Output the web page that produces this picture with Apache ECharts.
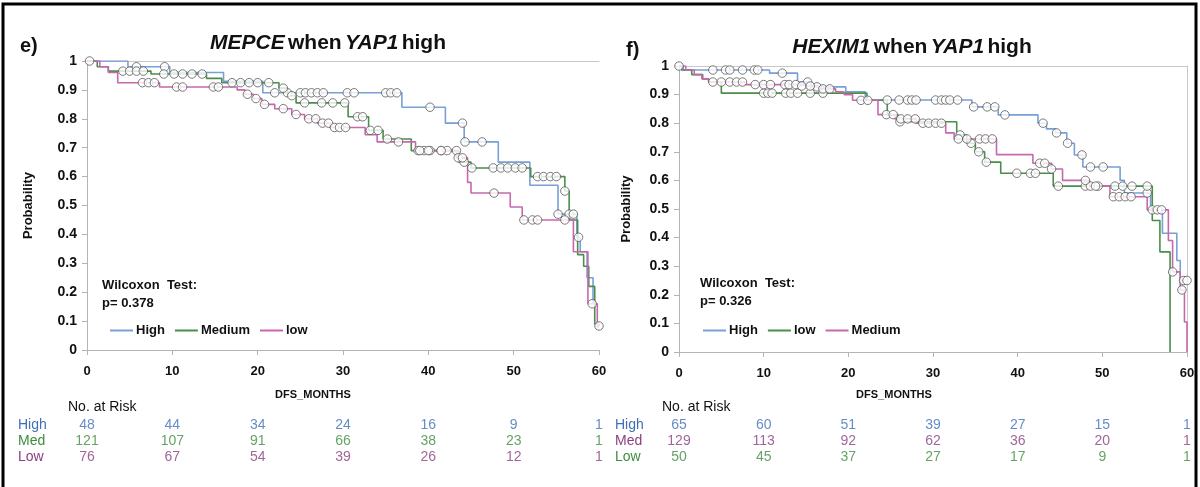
<!DOCTYPE html>
<html>
<head>
<meta charset="utf-8">
<script src="https://cdn.jsdelivr.net/npm/echarts@6/dist/echarts.min.js"></script>
<style>
  html, body { margin: 0; padding: 0; background: #fff; }
  #chart { width: 1200px; height: 487px; }
</style>
</head>
<body>
<div id="chart"></div>
<script>
// ---- Kaplan-Meier step data: [month, survival probability] ----
// Panel e: MEPCE when YAP1 high
const eHighSteps = [[0,1],[4.8,0.98],[9.7,0.96],[16,0.93],[20.6,0.89],[36.9,0.84],[42,0.785],[44.2,0.72],[48.2,0.65],[51.9,0.57],[55.2,0.47],[57.4,0.39],[57.8,0.34],[58.6,0.25],[59.3,0.16],[59.6,0.16]];
const eMedSteps  = [[0,1],[1.2,0.98],[2.5,0.965],[7.5,0.955],[14,0.94],[15.8,0.925],[22.5,0.906],[23.5,0.88],[24.5,0.855],[30.6,0.807],[33,0.76],[34.7,0.73],[38,0.69],[43.6,0.65],[45,0.63],[52,0.60],[56,0.55],[56.5,0.45],[57.5,0.33],[58.2,0.29],[58.8,0.22],[59.5,0.09],[60,0.083]];
const eLowSteps  = [[0,1],[1.5,0.98],[2.5,0.96],[3.6,0.925],[8.5,0.91],[17.6,0.90],[18.5,0.885],[19.5,0.87],[20.5,0.85],[22,0.835],[24,0.815],[25.5,0.80],[27,0.785],[28.5,0.77],[32.6,0.745],[34,0.72],[38.5,0.69],[43.3,0.665],[44.6,0.58],[45,0.543],[49.6,0.495],[51,0.45],[57,0.34],[58.7,0.16],[59.8,0.08],[60,0.08]];
// censored observation times (months)
const eHighCens = [0.3,5.8,9.1,22,23.5,25,25.6,26.3,27,27.7,30.5,31.3,35,35.6,36.3,40.2,44,44.3,46.3,55.2,56.5,57,57.6];
const eMedCens  = [4.2,5,5.8,6.6,9,10.2,11.2,12.3,13.5,17,18,19,20,21.3,23,24,25.5,27.5,28.8,30.2,31.7,32.3,33.2,34.1,35.2,38.8,39.5,40.2,41.5,42.2,43.3,44.2,45.1,47.6,48.5,49.3,50.2,51,52.8,53.5,54.3,55,56,60];
const eLowCens  = [6.5,7.2,7.9,10.5,11.2,14.8,15.4,18.8,19.8,20.8,23,24.5,26,26.8,27.6,28.3,29,29.6,30.3,36.5,39,40,41.5,43.5,44,47.7,51.2,52.2,52.8,56,59.2];

// Panel f: HEXIM1 when YAP1 high
const fHighSteps = [[0,1],[0.5,0.986],[10.7,0.975],[14,0.944],[15.5,0.927],[19.7,0.91],[22,0.881],[34.6,0.857],[37.7,0.829],[42.4,0.80],[43.4,0.78],[44.5,0.766],[45.8,0.73],[46.7,0.689],[47.7,0.647],[52.1,0.60],[52.6,0.556],[55.7,0.497],[57.1,0.415],[58.8,0.32],[59.2,0.25],[60,0.25]];
const fLowSteps  = [[0,1],[0.3,0.986],[1.5,0.97],[2.8,0.955],[3.5,0.944],[5,0.905],[22.2,0.88],[24.6,0.829],[25.9,0.805],[32.8,0.759],[34,0.73],[35,0.70],[36.1,0.664],[38,0.625],[44.2,0.58],[55.9,0.46],[56.8,0.35],[58,0]];
const fMedSteps  = [[0,1],[0.8,0.986],[1.8,0.97],[2.7,0.955],[3.5,0.944],[7.8,0.935],[14,0.93],[16.5,0.92],[18.5,0.91],[19.5,0.90],[20.5,0.88],[23.5,0.83],[25.5,0.815],[28,0.80],[31.5,0.766],[32.5,0.745],[37.5,0.69],[41.8,0.66],[44,0.64],[45.3,0.60],[48.5,0.58],[50.9,0.543],[55.3,0.497],[57.8,0.39],[58.3,0.28],[59.2,0.217],[59.7,0.105],[60,0]];
const fHighCens = [0,4,5.5,6,7.5,8.9,9.3,12.2,15.2,16.3,24.6,26,27,27.5,28,30.3,31,31.5,32,32.9,34.8,36.4,37.3,38.5,43,44.6,45.9,47.6,48.6,50.1,55.3,59.6,60];
const fLowCens  = [10,10.5,11,12.6,13.2,14,15.5,17,26.1,33.2,34.5,35.4,36.3,39.9,41.5,42.1,44.8,48,48.6,49.5,51.5,52.4,53.5,55.3];
const fMedCens  = [4,5,6,6.8,7.5,9,10,10.8,12.5,13,13.8,14.5,15.5,17,17.8,21.5,22.3,24.5,25.3,26.2,27,27.9,28.8,29.5,30.3,31,33,34,35.5,36.2,37,42.6,43.2,44,48,49.2,51.3,52,52.7,53.4,55.9,56.5,57,58.3,59.4];

// ---- Number at risk tables ----
const riskMonths = [0,10,20,30,40,50,60];
const eRiskHigh = [48,44,34,24,16,9,1];
const eRiskMed  = [121,107,91,66,38,23,1];
const eRiskLow  = [76,67,54,39,26,12,1];
const fRiskHigh = [65,60,51,39,27,15,1];
const fRiskMed  = [129,113,92,62,36,20,1];
const fRiskLow  = [50,45,37,27,17,9,1];
const riskRows = ['High','Med','Low'];

// ---- styling ----
const FONT = 'Arial, "Liberation Sans", sans-serif';
const LINE_BLUE = '#789fd6', LINE_GREEN = '#4b8d4b', LINE_PINK = '#c768ad';
const TXT_BLUE = '#3f70b6', TXT_GREEN = '#3f8b3f', TXT_PURPLE = '#8a3f7f';
const AXIS_GREY = '#b4b4b4';

// survival value of a step curve at time t
function survAt(steps, t) {
  let s = steps[0][1];
  for (const [st, sv] of steps) { if (st <= t) s = sv; else break; }
  return s;
}

function valueXAxis(gridIndex) {
  return {
    type: 'value', gridIndex, min: 0, max: 60, interval: 10,
    axisLine: { show: true, lineStyle: { color: AXIS_GREY, width: 1 } },
    axisTick: { show: true, length: 5, lineStyle: { color: AXIS_GREY } },
    axisLabel: { color: '#111', fontFamily: FONT, fontWeight: 'bold', fontSize: 13, margin: 15 },
    splitLine: { show: false }
  };
}
function valueYAxis(gridIndex) {
  return {
    type: 'value', gridIndex, min: 0, max: 1, interval: 0.1,
    axisLine: { show: true, lineStyle: { color: AXIS_GREY, width: 1 } },
    axisTick: { show: true, length: 5, lineStyle: { color: AXIS_GREY } },
    axisLabel: {
      color: '#111', fontFamily: FONT, fontWeight: 'bold', fontSize: 14, margin: 10,
      formatter: v => (v === 0 ? '0' : v === 1 ? '1' : v.toFixed(1))
    },
    splitLine: { show: false }
  };
}
// plain light line used as the top / right frame of a plot area
function borderAxis(kind, gridIndex, position) {
  return {
    gridIndex, position, type: 'value', min: 0, max: kind === 'x' ? 60 : 1,
    axisLine: { show: true, onZero: false, lineStyle: { color: '#c8c8c8', width: 1 } },
    axisTick: { show: false }, axisLabel: { show: false }, splitLine: { show: false }
  };
}
function riskYAxis(gridIndex, colors, margin) {
  return {
    type: 'category', gridIndex, data: riskRows, inverse: true,
    axisLine: { show: false }, axisTick: { show: false }, splitLine: { show: false },
    axisLabel: {
      interval: 0, align: 'left', margin, fontFamily: FONT, fontSize: 14,
      formatter: v => '{' + v + '|' + v + '}',
      rich: {
        High: { color: colors[0], fontFamily: FONT, fontSize: 14 },
        Med:  { color: colors[1], fontFamily: FONT, fontSize: 14 },
        Low:  { color: colors[2], fontFamily: FONT, fontSize: 14 }
      }
    }
  };
}
function riskXAxis(gridIndex) {
  return { type: 'value', gridIndex, min: 0, max: 60, show: false };
}

function kmLine(name, steps, color, xi, yi) {
  return {
    name, type: 'line', step: 'end', xAxisIndex: xi, yAxisIndex: yi,
    data: steps, showSymbol: false, symbol: 'none', z: 2,
    lineStyle: { color, width: 1.6 }, itemStyle: { color }
  };
}
function censorMarks(steps, times, xi, yi) {
  return {
    type: 'scatter', xAxisIndex: xi, yAxisIndex: yi, z: 4,
    symbol: 'circle', symbolSize: 8.5,
    itemStyle: { color: '#fff', borderColor: '#5a5a5a', borderWidth: 1 },
    data: times.map(t => [t, survAt(steps, t)])
  };
}
function riskRow(row, values, color, xi, yi) {
  return {
    type: 'scatter', xAxisIndex: xi, yAxisIndex: yi, symbolSize: 1,
    itemStyle: { color: 'rgba(0,0,0,0)' },
    label: { show: true, position: 'inside', color, fontFamily: FONT, fontSize: 14, formatter: p => String(p.value[2]) },
    data: riskMonths.map((m, i) => [m, row, values[i]])
  };
}

const chart = echarts.init(document.getElementById('chart'), null, { renderer: 'canvas' });

const option = {
  animation: false,
  backgroundColor: '#fff',
  grid: [
    { left: 87, top: 61, width: 512, height: 289 },
    { left: 679, top: 66, width: 508, height: 286 },
    { left: 87, top: 417, width: 512, height: 48 },
    { left: 679, top: 417, width: 508, height: 48 }
  ],
  xAxis: [
    valueXAxis(0),
    borderAxis('x', 0, 'top'),
    valueXAxis(1),
    borderAxis('x', 1, 'top'),
    riskXAxis(2),
    riskXAxis(3)
  ],
  yAxis: [
    Object.assign(valueYAxis(0), {
      name: 'Probability', nameLocation: 'middle', nameRotate: 90, nameGap: 52,
      nameTextStyle: { fontFamily: FONT, fontWeight: 'bold', fontSize: 13, color: '#111' }
    }),
    Object.assign(valueYAxis(1), {
      name: 'Probability', nameLocation: 'middle', nameRotate: 90, nameGap: 46,
      nameTextStyle: { fontFamily: FONT, fontWeight: 'bold', fontSize: 13, color: '#111' }
    }),
    borderAxis('y', 1, 'right'),
    riskYAxis(2, [TXT_BLUE, TXT_GREEN, TXT_PURPLE], 69),
    riskYAxis(3, [TXT_BLUE, TXT_PURPLE, TXT_GREEN], 64)
  ],
  legend: [
    {
      left: 105, top: 319, itemWidth: 23, itemHeight: 2, itemGap: 10, icon: 'rect',
      data: ['e:High', 'e:Medium', 'e:low'], formatter: n => n.slice(2), selectedMode: false,
      textStyle: { fontFamily: FONT, fontWeight: 'bold', fontSize: 13, color: '#111', padding: [0, 0, 0, -2] }
    },
    {
      left: 698, top: 319, itemWidth: 23, itemHeight: 2, itemGap: 10, icon: 'rect',
      data: ['f:High', 'f:low', 'f:Medium'], formatter: n => n.slice(2), selectedMode: false,
      textStyle: { fontFamily: FONT, fontWeight: 'bold', fontSize: 13, color: '#111', padding: [0, 0, 0, -2] }
    }
  ],
  series: [
    kmLine('e:High', eHighSteps, LINE_BLUE, 0, 0),
    kmLine('e:Medium', eMedSteps, LINE_GREEN, 0, 0),
    kmLine('e:low', eLowSteps, LINE_PINK, 0, 0),
    censorMarks(eHighSteps, eHighCens, 0, 0),
    censorMarks(eMedSteps, eMedCens, 0, 0),
    censorMarks(eLowSteps, eLowCens, 0, 0),

    kmLine('f:High', fHighSteps, LINE_BLUE, 2, 1),
    kmLine('f:low', fLowSteps, LINE_GREEN, 2, 1),
    kmLine('f:Medium', fMedSteps, LINE_PINK, 2, 1),
    censorMarks(fHighSteps, fHighCens, 2, 1),
    censorMarks(fLowSteps, fLowCens, 2, 1),
    censorMarks(fMedSteps, fMedCens, 2, 1),

    riskRow('High', eRiskHigh, TXT_BLUE, 4, 3),
    riskRow('Med', eRiskMed, TXT_GREEN, 4, 3),
    riskRow('Low', eRiskLow, TXT_PURPLE, 4, 3),
    riskRow('High', fRiskHigh, TXT_BLUE, 5, 4),
    riskRow('Med', fRiskMed, TXT_PURPLE, 5, 4),
    riskRow('Low', fRiskLow, TXT_GREEN, 5, 4)
  ],
  graphic: [
    // outer frame
    { type: 'rect', shape: { x: 3, y: 4, width: 1193, height: 490 }, style: { fill: 'none', stroke: '#000', lineWidth: 3 }, silent: true },
    // panel letters
    { type: 'text', x: 20, y: 36, style: { text: 'e)', font: 'bold 20px ' + FONT, fill: '#111' } },
    { type: 'text', x: 626, y: 40, style: { text: 'f)', font: 'bold 20px ' + FONT, fill: '#111' } },
    // titles
    {
      type: 'text', x: 328, y: 33,
      style: {
        text: '{i|MEPCE} {n|when} {i|YAP1} {n|high}', align: 'center',
        rich: {
          i: { font: 'italic bold 21px ' + FONT, fill: '#111' },
          n: { font: 'bold 21px ' + FONT, fill: '#111' }
        }
      }
    },
    {
      type: 'text', x: 912, y: 37,
      style: {
        text: '{i|HEXIM1} {n|when} {i|YAP1} {n|high}', align: 'center',
        rich: {
          i: { font: 'italic bold 21px ' + FONT, fill: '#111' },
          n: { font: 'bold 21px ' + FONT, fill: '#111' }
        }
      }
    },
    // test annotations
    { type: 'text', x: 102, y: 279, style: { text: 'Wilcoxon  Test:', font: 'bold 13px ' + FONT, fill: '#111' } },
    { type: 'text', x: 102, y: 297, style: { text: 'p= 0.378', font: 'bold 13px ' + FONT, fill: '#111' } },
    { type: 'text', x: 700, y: 277, style: { text: 'Wilcoxon  Test:', font: 'bold 13px ' + FONT, fill: '#111' } },
    { type: 'text', x: 700, y: 295, style: { text: 'p= 0.326', font: 'bold 13px ' + FONT, fill: '#111' } },
    // x-axis captions
    { type: 'text', x: 313, y: 389, style: { text: 'DFS_MONTHS', align: 'center', font: 'bold 11px ' + FONT, fill: '#111' } },
    { type: 'text', x: 894, y: 389, style: { text: 'DFS_MONTHS', align: 'center', font: 'bold 11px ' + FONT, fill: '#111' } },
    // risk table headings
    { type: 'text', x: 68, y: 400, style: { text: 'No. at Risk', font: '14px ' + FONT, fill: '#111' } },
    { type: 'text', x: 662, y: 400, style: { text: 'No. at Risk', font: '14px ' + FONT, fill: '#111' } }
  ]
};

chart.setOption(option);
</script>
</body>
</html>
